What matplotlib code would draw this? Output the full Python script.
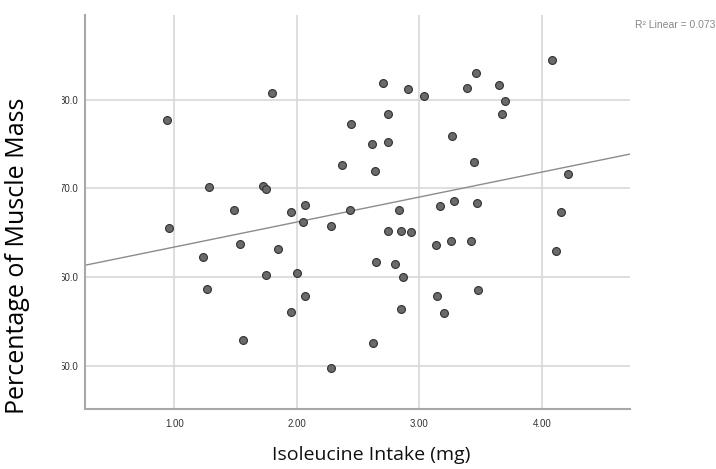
import numpy as np
import matplotlib
matplotlib.use("Agg")
import matplotlib.pyplot as plt
from matplotlib.transforms import Bbox, TransformedBbox

# Data
isoleucine_mg = [1.80, 0.94, 2.445, 2.37, 1.28, 1.72, 1.75, 1.486, 1.954, 2.063,
                 2.43, 0.957, 2.047, 2.28, 4.08, 3.46, 2.70, 3.65, 2.905, 3.39,
                 3.04, 3.70, 2.745, 3.674, 3.27, 2.617, 2.74, 3.45, 2.64, 4.217,
                 2.835, 3.17, 3.285, 3.47, 4.156, 1.537, 1.848, 1.235, 1.744, 2.003,
                 1.267, 2.066, 1.952, 1.562, 2.28, 2.742, 2.85, 2.93, 3.137, 3.26,
                 3.418, 4.116, 2.647, 2.80, 2.867, 3.145, 3.478, 2.853, 3.20, 2.625]
muscle_pct = [80.8, 77.7, 77.3, 72.6, 70.2, 70.3, 69.9, 67.6, 67.3, 68.1,
              67.6, 65.5, 66.2, 65.8, 84.5, 83.0, 81.9, 81.7, 81.2, 81.3,
              80.4, 79.9, 78.4, 78.4, 75.9, 75.0, 75.2, 73.0, 71.9, 71.6,
              67.6, 68.0, 68.6, 68.4, 67.3, 63.7, 63.2, 62.3, 60.2, 60.5,
              58.6, 57.8, 56.1, 52.9, 49.7, 65.2, 65.2, 65.1, 63.6, 64.1,
              64.1, 62.9, 61.7, 61.5, 60.0, 57.9, 58.5, 56.4, 55.9, 52.5]
x_ticks = [1.0, 2.0, 3.0, 4.0]
x_tick_labels = ["1.00", "2.00", "3.00", "4.00"]
y_ticks = [50.0, 60.0, 70.0, 80.0]
y_tick_labels = ["50.0", "60.0", "70.0", "80.0"]
r2_text = "R² Linear = 0.073"
x_label = "Isoleucine Intake (mg)"
y_label = "Percentage of Muscle Mass"

x = np.array(isoleucine_mg)
y = np.array(muscle_pct)

fig = plt.figure(figsize=(7.16, 4.69), dpi=100)
ax = fig.add_axes([85/716, 1 - 409/469, (630-85)/716, (409-15.5)/469])

xlim = (0.27, 4.72)
ylim = (45.1, 89.5)
ax.set_xlim(*xlim)
ax.set_ylim(*ylim)

ax.grid(True, color="#d8d8d8", linewidth=1.2, zorder=0)
ax.set_axisbelow(True)

slope, intercept = np.polyfit(x, y, 1)
lx = np.array(xlim)
ax.plot(lx, intercept + slope * lx, color="#8c8c8c", linewidth=1.0, zorder=2)

ax.scatter(x, y, s=32, facecolor="#6a6a6a", edgecolor="#303030", linewidth=0.8, zorder=3)

ax.set_xticks(x_ticks)
ax.set_xticklabels(x_tick_labels)
ax.set_yticks(y_ticks)
ax.set_yticklabels(y_tick_labels)
ax.tick_params(length=0, labelsize=7, labelcolor="#333333")
for lab in ax.get_xticklabels() + ax.get_yticklabels():
    lab.set_family(["Liberation Sans", "DejaVu Sans"])
ax.tick_params(axis="x", pad=7)
ax.tick_params(axis="y", pad=5)

for side in ("top", "right"):
    ax.spines[side].set_visible(False)
for side in ("left", "bottom"):
    ax.spines[side].set_color("#a8a8a8")
    ax.spines[side].set_linewidth(1.5)

fig.text(371/716, 1 - 455/469, x_label, ha="center", va="center",
         fontsize=14, family=["Open Sans", "DejaVu Sans"], color="#111111")
fig.text(18/716, 1 - 255.5/469, y_label, ha="center", va="center", rotation=90,
         fontsize=18, family=["Open Sans", "DejaVu Sans"], color="#000000")
fig.text(715/716, 1 - 25/469, r2_text, ha="right", va="center",
         fontsize=7.5, family=["Liberation Sans", "DejaVu Sans"], color="#888888")

# the reference's y tick labels are clipped on their left side
clip = TransformedBbox(Bbox([[62/716, 0], [1, 1]]), fig.transFigure)
for lab in ax.get_yticklabels():
    lab.set_clip_box(clip)
    lab.set_clip_on(True)

fig.savefig("out.png", dpi=100)
